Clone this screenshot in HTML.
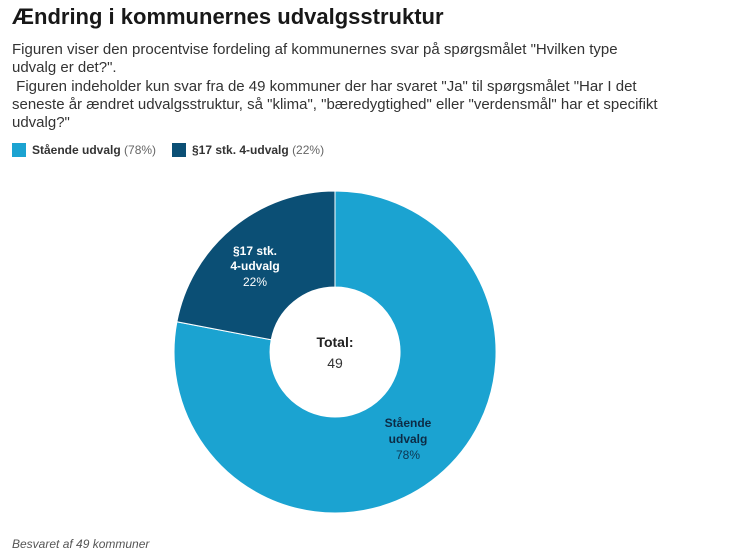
<!DOCTYPE html>
<html><head><meta charset="utf-8"><style>
body{margin:0;width:750px;height:555px;background:#fff;font-family:"Liberation Sans",sans-serif;color:#333;position:relative;overflow:hidden}
.t{position:absolute;left:12px;top:4px;font-size:22px;font-weight:bold;color:#181818}
.d{position:absolute;left:12px;top:41px;font-size:15px;line-height:18.3px;color:#333;width:700px;white-space:nowrap}
.lg{position:absolute;top:143px;font-size:12px;color:#333}
.sq{display:inline-block;width:14px;height:14px;vertical-align:-3px;margin-right:6px}
.f{position:absolute;left:12px;top:537px;font-size:12px;font-style:italic;color:#555}
</style></head><body>
<div class="t">Ændring i kommunernes udvalgsstruktur</div>
<div class="d">Figuren viser den procentvise fordeling af kommunernes svar på spørgsmålet "Hvilken type<br>udvalg er det?".<br>&nbsp;Figuren indeholder kun svar fra de 49 kommuner der har svaret "Ja" til spørgsmålet "Har I det<br>seneste år ændret udvalgsstruktur, så "klima", "bæredygtighed" eller "verdensmål" har et specifikt<br>udvalg?"</div>
<div class="lg" style="left:12px"><span class="sq" style="background:#1ba3d1"></span><b>Stående udvalg</b> <span style="color:#666">(78%)</span></div>
<div class="lg" style="left:172px"><span class="sq" style="background:#0b4f75"></span><b>§17 stk. 4-udvalg</b> <span style="color:#666">(22%)</span></div>
<svg width="750" height="555" style="position:absolute;left:0;top:0">
<path d="M335,191 A161,161 0 1 1 176.9,321.8 L271.2,339.8 A65,65 0 1 0 335,287 Z" fill="#1ba3d1" stroke="#fff" stroke-width="1"/>
<path d="M335,191 A161,161 0 0 0 176.9,321.8 L271.2,339.8 A65,65 0 0 1 335,287 Z" fill="#0b4f75" stroke="#fff" stroke-width="1"/>
<g font-family="Liberation Sans,sans-serif" font-size="12" text-anchor="middle">
<text x="255" y="255" fill="#fff" font-weight="bold">§17 stk.</text>
<text x="255" y="270" fill="#fff" font-weight="bold">4-udvalg</text>
<text x="255" y="286" fill="#fff">22%</text>
<text x="408" y="427" fill="#0d2b45" font-weight="bold">Stående</text>
<text x="408" y="443" fill="#0d2b45" font-weight="bold">udvalg</text>
<text x="408" y="459" fill="#0d3550">78%</text>
<text x="335" y="347" fill="#222" font-size="14" font-weight="bold">Total:</text>
<text x="335" y="368" fill="#333" font-size="14">49</text>
</g></svg>
<div class="f">Besvaret af 49 kommuner</div>
</body></html>
